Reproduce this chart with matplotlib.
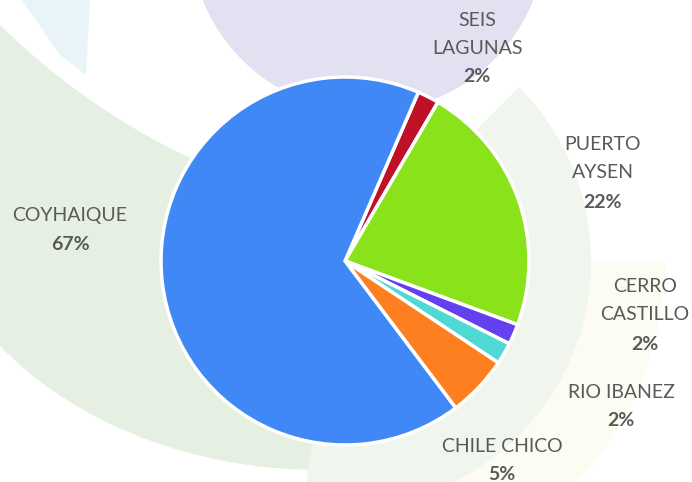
import matplotlib.pyplot as plt
from matplotlib.patches import Circle, Ellipse, Polygon, Rectangle, Wedge

# data (clockwise from the top, as in the picture)
comunas = ["SEIS\nLAGUNAS", "PUERTO\nAYSEN", "CERRO\nCASTILLO", "RIO IBANEZ", "CHILE CHICO", "COYHAIQUE"]
shares = [1.9, 22.2, 1.8, 1.9, 5.4, 66.8]
colors = ["#be1128", "#8ae31a", "#6440ee", "#4fd9d4", "#fd7f20", "#3f88f5"]

# label anchors in pixels (x centre, y of first line)
label_pos = [(477, 20), (603, 145), (645, 287), (621, 392), (502, 446), (70, 215)]

W, H = 692, 482
fig = plt.figure(figsize=(W / 100, H / 100), dpi=100)
plt.rcParams["font.family"] = ["Lato", "DejaVu Sans"]

# faint watermark logo behind the chart (y axis points down here)
bg = fig.add_axes([0, 0, 1, 1])
bg.set_xlim(0, W)
bg.set_ylim(H, 0)
bg.axis("off")
green = bg.add_patch(Ellipse((320, 160), 800, 620, color="#e5f0e2", lw=0))
green.set_clip_path(Rectangle((0, 0), 430, H, transform=bg.transData))
bg.add_patch(Circle((491, -474), 700, color="white", lw=0))
bg.add_patch(Wedge((345, 261), 320, 0, 75, width=75, color="#fdfcf2", lw=0))
bg.add_patch(Wedge((345, 261), 246, -45, 100, width=70, color="#f0f6ee", lw=0))
bg.add_patch(Circle((368, -66), 178, color="#e1e1f2", lw=0))
bg.add_patch(Polygon([(22, 0), (90, 0), (86, 75), (60, 55)], closed=True, color="#e8f4f8", lw=0))

# pie
cx, cy, r = 345, 261, 184
ax = fig.add_axes([(cx - r) / W, (H - cy - r) / H, 2 * r / W, 2 * r / H])
ax.pie(shares, colors=colors, startangle=66.5, counterclock=False,
       wedgeprops=dict(edgecolor="white", linewidth=2.5))
ax.set_xlim(-1, 1)
ax.set_ylim(-1, 1)
ax.axis("off")

total = sum(shares)
for name, val, (x, y) in zip(comunas, shares, label_pos):
    lines = name.split("\n")
    for i, line in enumerate(lines):
        bg.text(x, y + i * 28, line, ha="center", va="center", fontsize=14, color="#595959")
    bg.text(x, y + len(lines) * 28 + 1, f"{round(val / total * 100)}%", ha="center", va="center",
            fontsize=14, fontweight="bold", color="#595959")

fig.savefig("out.png", dpi=100)
